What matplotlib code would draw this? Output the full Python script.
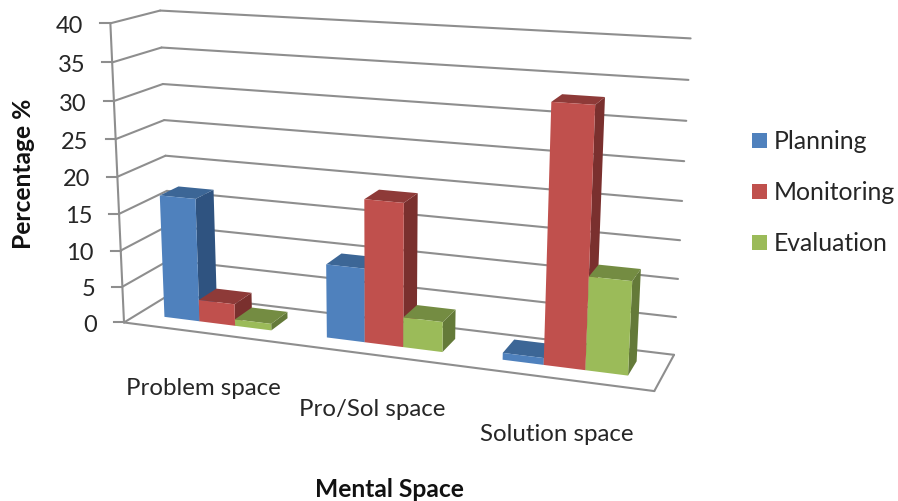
import numpy as np
import matplotlib
matplotlib.use('Agg')
import matplotlib.pyplot as plt
from matplotlib.patches import Polygon, Rectangle

plt.rcParams['font.family'] = ['Lato', 'DejaVu Sans']

categories = ['Problem space', 'Pro/Sol space', 'Solution space']
series = ['Planning', 'Monitoring', 'Evaluation']
planning = [16.9, 9.9, 0.9]
monitoring = [3.0, 19.0, 33.0]
evaluation = [0.9, 4.0, 12.0]
yticks = [0, 5, 10, 15, 20, 25, 30, 35, 40]

front = ['#4F81BD', '#C0504D', '#9BBB59']
top = ['#3C6696', '#8E3A38', '#748C42']
side = ['#2F5380', '#7A302E', '#647A39']
gridcol = '#8E8E8E'

# (category, depth, value) -> pixel pairs that pin down the 3-d box
box_world = np.array([[0, 0, 0], [0, 0, 20], [0, 0, 40], [0, 1, 0], [0, 1, 20], [0, 1, 40],
                      [3, 1, 0], [3, 1, 20], [3, 1, 40], [3, 0, 0]], dtype=float)
box_px = np.array([[125, 323], [116.7, 177.3], [110, 24.7], [170, 296], [165.7, 156], [160.7, 11.7],
                   [674, 355], [682, 202.3], [690.7, 39.3], [654.3, 392.7]], dtype=float)


def fit_camera(world, px):
    # direct linear transform, values scaled so the system is well behaved
    rows = []
    for (x, d, v), (u, w) in zip(world, px / 500):
        p = [x, d, v / 40, 1]
        rows.append(p + [0, 0, 0, 0] + [-u * c for c in p])
        rows.append([0, 0, 0, 0] + p + [-w * c for c in p])
    return np.linalg.svd(np.array(rows))[2][-1].reshape(2 + 1, 4)


cam = fit_camera(box_world, box_px)


def proj(x, d, v):
    h = cam @ np.array([x, d, v / 40, 1.0])
    return h[0] / h[2] * 500, h[1] / h[2] * 500


fig = plt.figure(figsize=(8.98, 5.02), dpi=100)
ax = fig.add_axes([0, 0, 1, 1])
ax.set_xlim(0, 898)
ax.set_ylim(502, 0)
ax.axis('off')


def seg(a, b):
    pa, pb = proj(*a), proj(*b)
    ax.plot([pa[0], pb[0]], [pa[1], pb[1]], color=gridcol, lw=1.5, zorder=1, solid_capstyle='round')


# walls and floor
for t in yticks:
    seg((0, 0, t), (0, 1, t))
    seg((0, 1, t), (3, 1, t))
    tx, ty = proj(0, 0, t)
    ax.plot([tx - 10, tx], [ty, ty], color=gridcol, lw=1.5, zorder=1)
    ax.text(tx - 27, ty + 2, str(t), ha='right', va='center', fontsize=17, color='#262626')
seg((0, 0, 0), (0, 0, 40))
seg((0, 0, 0), (3, 0, 0))
seg((3, 0, 0), (3, 1, 0))

# bars, gap width 150% in both directions
bar_w = 2 / 9
d0, d1 = 0.3, 0.7
zo = 2
for i in range(len(categories)):
    for j, vals in enumerate([planning, monitoring, evaluation]):
        x0 = i + 1 / 6 + j * bar_w
        x1 = x0 + bar_w
        v = vals[i]
        ax.add_patch(Polygon([proj(x1, d0, 0), proj(x1, d1, 0), proj(x1, d1, v), proj(x1, d0, v)],
                             fc=side[j], ec='none', zorder=zo))
        ax.add_patch(Polygon([proj(x0, d0, v), proj(x1, d0, v), proj(x1, d1, v), proj(x0, d1, v)],
                             fc=top[j], ec='none', zorder=zo))
        ax.add_patch(Polygon([proj(x0, d0, 0), proj(x1, d0, 0), proj(x1, d0, v), proj(x0, d0, v)],
                             fc=front[j], ec='none', zorder=zo))
        zo += 1

# category labels
label_pos = [(203.5, 389), (372, 410), (556.5, 435)]
for name, (lx, ly) in zip(categories, label_pos):
    ax.text(lx, ly, name, ha='center', va='center', fontsize=17.3, color='#262626')

ax.text(24, 174, 'Percentage %', rotation=90, ha='center', va='center', fontsize=17.7,
        fontweight='bold', color='#111111')
ax.text(389, 490, 'Mental Space', ha='center', va='center', fontsize=17.7,
        fontweight='bold', color='#111111')

# legend
for name, c, ly in zip(series, front, [141, 191.5, 242.5]):
    ax.add_patch(Rectangle((752, ly - 7), 15, 15, fc=c, ec='none', zorder=2))
    ax.text(774, ly + 1, name, ha='left', va='center', fontsize=17.8, color='#262626')

fig.savefig('out.png', dpi=100)
